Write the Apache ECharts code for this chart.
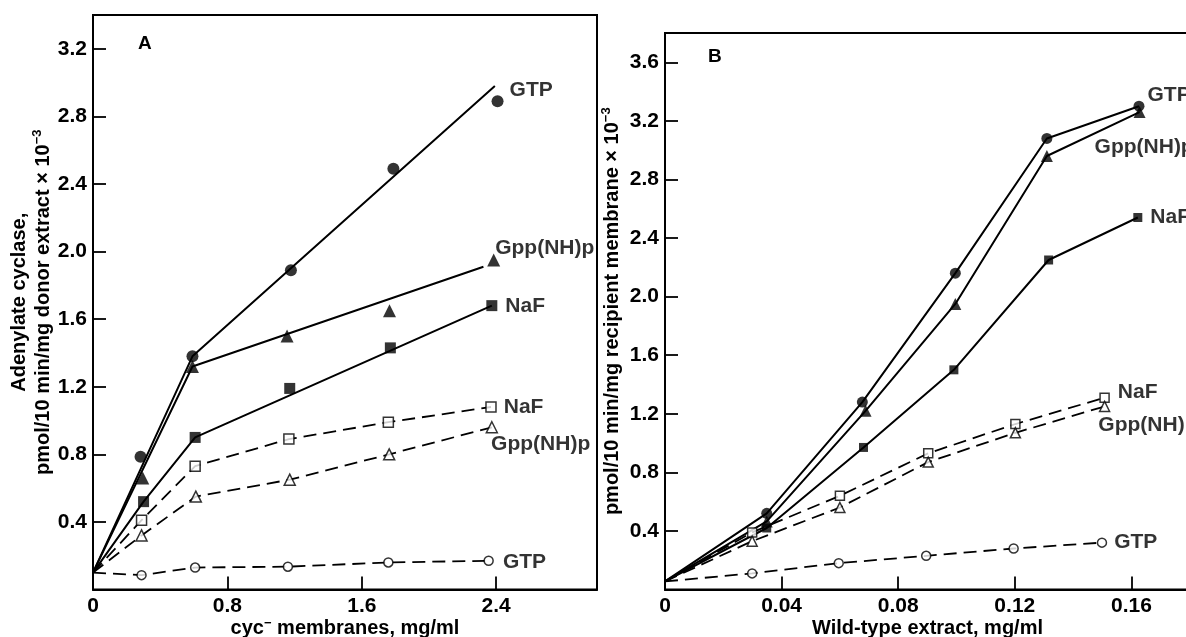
<!DOCTYPE html>
<html>
<head>
<meta charset="utf-8">
<script src="https://cdn.jsdelivr.net/npm/echarts@6/dist/echarts.min.js"></script>
<style>html,body{margin:0;padding:0;background:#fff}#c{width:1186px;height:637px}</style>
</head>
<body>
<div id="c"></div>
<script>
// ---------- Panel A data (x: cyc- membranes, mg/ml; y: activity x 10^-3) ----------
const aOrigin = [0, 0.1];
const aGtpFilled = [[0.283, 0.785], [0.592, 1.38], [1.178, 1.89], [1.788, 2.49], [2.408, 2.89]];
const aGtpFitLine = [[0, 0.1], [0.592, 1.38], [2.392, 2.98]];
const aGppFilled = [[0.296, 0.66], [0.592, 1.32], [1.155, 1.50], [1.765, 1.65], [2.385, 1.95]];
const aGppFitLine = [[0, 0.1], [0.592, 1.32], [2.324, 1.91]];
const aNafFilled = [[0.301, 0.52], [0.608, 0.90], [1.171, 1.19], [1.770, 1.43], [2.374, 1.68]];
const aNafFitLine = [[0, 0.1], [0.301, 0.52], [0.608, 0.90], [2.374, 1.68]];
const aNafOpen = [[0.289, 0.41], [0.608, 0.73], [1.166, 0.89], [1.758, 0.99], [2.369, 1.08]];
const aGppOpen = [[0.289, 0.32], [0.612, 0.55], [1.171, 0.65], [1.763, 0.80], [2.374, 0.96]];
const aGtpOpen = [[0.289, 0.085], [0.608, 0.13], [1.160, 0.135], [1.758, 0.16], [2.355, 0.17]];
const aXTicks = ['0', '0.8', '1.6', '2.4'];
const aYTicks = ['0.4', '0.8', '1.2', '1.6', '2.0', '2.4', '2.8', '3.2'];

// ---------- Panel B data (x: wild-type extract, mg/ml) ----------
const bOrigin = [0, 0.055];
const bGtpFilled = [[0.0349, 0.52], [0.0677, 1.28], [0.0996, 2.16], [0.1310, 3.08], [0.1626, 3.30]];
const bGppFilled = [[0.0349, 0.465], [0.0688, 1.22], [0.0996, 1.95], [0.1310, 2.96], [0.1628, 3.26]];
const bNafFilled = [[0.0349, 0.42], [0.0681, 0.97], [0.0991, 1.50], [0.1316, 2.25], [0.1622, 2.54]];
const bNafOpen = [[0.0299, 0.39], [0.0600, 0.64], [0.0903, 0.93], [0.1202, 1.13], [0.1508, 1.31]];
const bGppOpen = [[0.0299, 0.33], [0.0600, 0.56], [0.0903, 0.87], [0.1202, 1.07], [0.1508, 1.25]];
const bGtpOpen = [[0.0299, 0.11], [0.0596, 0.18], [0.0896, 0.23], [0.1196, 0.28], [0.1499, 0.32]];
const bXTicks = ['0', '0.04', '0.08', '0.12', '0.16'];
const bYTicks = ['0.4', '0.8', '1.2', '1.6', '2.0', '2.4', '2.8', '3.2', '3.6'];

const FONT = 'Liberation Sans';
const INK = '#000';

function onlyTicks(list) {
  return function (v) {
    for (const t of list) if (Math.abs(v - parseFloat(t)) < 1e-9) return t;
    return '';
  };
}

function lineSeries(grid, data, dashed) {
  return {
    type: 'line', xAxisIndex: grid, yAxisIndex: grid, data: data,
    showSymbol: false, symbol: 'none', silent: true, z: 2,
    lineStyle: { color: INK, width: dashed ? 1.8 : 2, type: dashed ? [13, 7] : 'solid' }
  };
}

function markerSeries(grid, data, symbol, size, filled, label, offset) {
  const last = data.length - 1;
  return {
    type: 'scatter', xAxisIndex: grid, yAxisIndex: grid, symbol: symbol, symbolSize: size, z: 3,
    itemStyle: filled ? { color: INK } : { color: '#fff', borderColor: INK, borderWidth: 1.5 },
    data: data.map((p, i) => i === last ? {
      value: p,
      label: { show: true, position: 'right', formatter: label, offset: offset,
               fontFamily: FONT, fontSize: 21, fontWeight: 'bold', color: INK }
    } : p)
  };
}

const series = [
  // Panel A
  lineSeries(0, aGtpFitLine, false),
  lineSeries(0, aGppFitLine, false),
  lineSeries(0, aNafFitLine, false),
  lineSeries(0, [aOrigin].concat(aNafOpen), true),
  lineSeries(0, [aOrigin].concat(aGppOpen), true),
  lineSeries(0, [aOrigin].concat(aGtpOpen), true),
  markerSeries(0, aGtpFilled, 'circle', 12, true, 'GTP', [1, -11]),
  markerSeries(0, aGppFilled, 'triangle', 13, true, 'Gpp(NH)p', [-10, -12]),
  markerSeries(0, aNafFilled, 'rect', 11, true, 'NaF', [3, 1]),
  markerSeries(0, aNafOpen, 'rect', 10, false, 'NaF', [2, 0]),
  markerSeries(0, aGppOpen, 'triangle', 11, false, 'Gpp(NH)p', [-12, 17]),
  markerSeries(0, aGtpOpen, 'circle', 9, false, 'GTP', [4, 1]),
  // Panel B
  lineSeries(1, [bOrigin].concat(bGtpFilled), false),
  lineSeries(1, [bOrigin].concat(bGppFilled), false),
  lineSeries(1, [bOrigin].concat(bNafFilled), false),
  lineSeries(1, [bOrigin].concat(bNafOpen), true),
  lineSeries(1, [bOrigin].concat(bGppOpen), true),
  lineSeries(1, [bOrigin].concat(bGtpOpen), true),
  markerSeries(1, bGtpFilled, 'circle', 11, true, 'GTP', [-2, -11]),
  markerSeries(1, bGppFilled, 'triangle', 12, true, 'Gpp(NH)p', [-56, 35]),
  markerSeries(1, bNafFilled, 'rect', 9, true, 'NaF', [3, 0]),
  markerSeries(1, bNafOpen, 'rect', 9, false, 'NaF', [3, -5]),
  markerSeries(1, bGppOpen, 'triangle', 10, false, 'Gpp(NH)p', [-17, 19]),
  markerSeries(1, bGtpOpen, 'circle', 9, false, 'GTP', [2, 0])
];

const axisCommon = {
  axisLine: { show: true, lineStyle: { color: INK, width: 2 } },
  axisTick: { show: true, inside: true, length: 13, lineStyle: { color: INK, width: 1.8 } },
  splitLine: { show: false },
  axisLabel: { fontFamily: FONT, fontSize: 21, fontWeight: 'bold', color: INK, margin: 6 },
  nameTextStyle: { fontFamily: FONT, fontSize: 20, fontWeight: 'bold', color: INK },
  nameMoveOverlap: false
};
const rich = {
  t: { fontFamily: FONT, fontSize: 20, fontWeight: 'bold', color: INK, lineHeight: 24 },
  s: { fontFamily: FONT, fontSize: 13, fontWeight: 'bold', color: INK, verticalAlign: 'top', lineHeight: 24 }
};

function xAxis(grid, max, interval, ticks, name, extra) {
  return Object.assign({}, axisCommon, {
    type: 'value', gridIndex: grid, min: 0, max: max, interval: interval,
    name: name, nameLocation: 'middle', nameGap: 27,
    nameTextStyle: Object.assign({}, axisCommon.nameTextStyle, { rich: rich }, extra || {}),
    axisLabel: Object.assign({}, axisCommon.axisLabel, { formatter: onlyTicks(ticks) })
  });
}
function yAxis(grid, max, interval, ticks, name, gap) {
  return Object.assign({}, axisCommon, {
    type: 'value', gridIndex: grid, min: 0, max: max, interval: interval,
    name: name, nameLocation: 'middle', nameGap: gap,
    nameTextStyle: Object.assign({}, axisCommon.nameTextStyle, { rich: rich }),
    axisLabel: Object.assign({}, axisCommon.axisLabel, { formatter: onlyTicks(ticks) })
  });
}

const option = {
  backgroundColor: '#fff',
  animation: false,
  title: [
    { text: 'A', left: 133, top: 29, textStyle: { fontFamily: FONT, fontSize: 19, fontWeight: 'bold', color: INK } },
    { text: 'B', left: 703, top: 42, textStyle: { fontFamily: FONT, fontSize: 19, fontWeight: 'bold', color: INK } }
  ],
  grid: [
    { left: 93, top: 15, right: 589, bottom: 47.5, show: true, borderColor: INK, borderWidth: 2,
      backgroundColor: 'transparent', outerBoundsMode: 'none', containLabel: false },
    { left: 665, top: 33, right: -62, bottom: 47.5, show: true, borderColor: INK, borderWidth: 2,
      backgroundColor: 'transparent', outerBoundsMode: 'none', containLabel: false }
  ],
  xAxis: [
    xAxis(0, 3.0, 0.8, aXTicks, '{t|cyc}{s|−}{t| membranes, mg/ml}'),
    xAxis(1, 0.2, 0.04, bXTicks, '{t|Wild-type extract, mg/ml}', { padding: [0, 58, 0, 0] })
  ],
  yAxis: [
    yAxis(0, 3.4, 0.4, aYTicks, '{t|Adenylate cyclase,}\n{t|pmol/10 min/mg donor extract × 10}{s|−3}', 38),
    yAxis(1, 3.8, 0.4, bYTicks, '{t|pmol/10 min/mg recipient membrane × 10}{s|−3}', 41)
  ],
  series: series
};

const chart = echarts.init(document.getElementById('c'), null, { renderer: 'canvas' });
chart.setOption(option);
</script>
</body>
</html>
